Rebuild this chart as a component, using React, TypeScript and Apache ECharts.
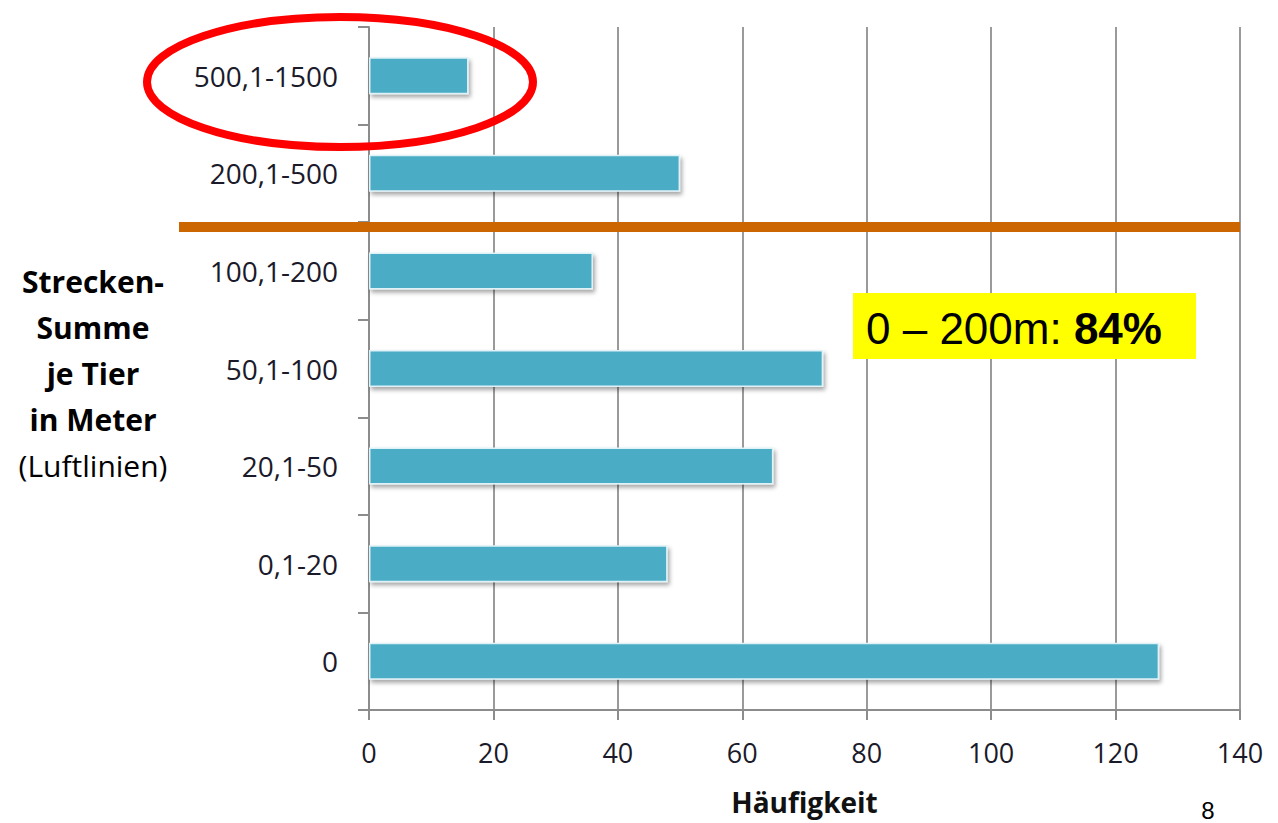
import React, { useEffect, useRef } from "react";
import * as echarts from "echarts";

const categories = ["0", "0,1-20", "20,1-50", "50,1-100", "100,1-200", "200,1-500", "500,1-1500"];
const counts = [127, 48, 65, 73, 36, 50, 16];
const xTicks = { min: 0, max: 140, interval: 20 };
const titleLines = ["Strecken-", "Summe", "je Tier", "in Meter"];
const titleNote = "(Luftlinien)";
const boxTextPlain = "0 – 200m: ";
const boxTextBold = "84%";
const xAxisName = "Häufigkeit";
const pageNumber = "8";

const FONT = "'Open Sans', sans-serif";
const ARIAL = "'Liberation Sans', Arial, sans-serif";

export default function App() {
  const ref = useRef<HTMLDivElement>(null);
  useEffect(() => {
    if (!ref.current) return;
    const chart = echarts.init(ref.current, null, { renderer: "svg" });
    const titleGraphics: any[] = titleLines.map((t, i) => ({
      type: "text",
      x: 93,
      y: 281 + i * 46,
      style: {
        text: t,
        font: `bold 30px ${FONT}`,
        fill: "#000",
        align: "center",
        verticalAlign: "middle",
      },
    }));
    titleGraphics.push({
      type: "text",
      x: 93,
      y: 281 + 4 * 46,
      style: {
        text: titleNote,
        font: `30px ${FONT}`,
        fill: "#000",
        align: "center",
        verticalAlign: "middle",
      },
    });
    chart.setOption({
      animation: false,
      backgroundColor: "#fff",
      grid: {
        left: 369,
        right: 38,
        top: 27,
        bottom: 113,
        containLabel: false,
        outerBoundsMode: "none",
      },
      xAxis: {
        type: "value",
        min: xTicks.min,
        max: xTicks.max,
        interval: xTicks.interval,
        name: xAxisName,
        nameLocation: "middle",
        nameGap: 78,
        nameTextStyle: {
          fontFamily: FONT,
          fontWeight: "bold",
          fontSize: 28,
          lineHeight: 28,
          color: "#111",
        },
        axisLine: { show: true, lineStyle: { color: "#8c8c8c", width: 2 } },
        axisTick: { show: true, length: 10, lineStyle: { color: "#8c8c8c", width: 2 } },
        axisLabel: { fontFamily: FONT, fontSize: 27, color: "#1a1a2a", margin: 29 },
        splitLine: { show: true, lineStyle: { color: "#9a9a9a", width: 2 } },
      },
      yAxis: {
        type: "category",
        data: categories,
        axisLine: { show: true, lineStyle: { color: "#8c8c8c", width: 2 } },
        axisTick: { show: true, length: 11, lineStyle: { color: "#8c8c8c", width: 2 } },
        axisLabel: { fontFamily: FONT, fontSize: 28, color: "#1a1a2a", margin: 31 },
        splitLine: { show: false },
      },
      series: [
        {
          type: "bar",
          data: counts,
          barWidth: 37,
          itemStyle: {
            color: "#4BACC6",
            borderColor: "#dff2f7",
            borderWidth: 1.5,
            shadowColor: "rgba(0,0,0,0.35)",
            shadowBlur: 4,
            shadowOffsetX: 2,
            shadowOffsetY: 3,
          },
        },
      ],
      graphic: [
        ...titleGraphics,
        {
          type: "line",
          shape: { x1: 179, y1: 227, x2: 1240, y2: 227 },
          style: { stroke: "#CC6600", lineWidth: 10 },
          z: 100,
        },
        {
          type: "rect",
          shape: { x: 853, y: 293, width: 343, height: 66 },
          style: { fill: "#FFFF00" },
          z: 100,
        },
        {
          type: "text",
          x: 866,
          y: 328,
          z: 101,
          style: {
            text: `{a|${boxTextPlain}}{b|${boxTextBold}}`,
            verticalAlign: "middle",
            rich: {
              a: { font: `44px ${ARIAL}`, fill: "#000" },
              b: { font: `bold 44px ${ARIAL}`, fill: "#000" },
            },
          } as any,
        },
        {
          type: "ellipse",
          shape: { cx: 340, cy: 82, rx: 193, ry: 65 },
          style: { fill: "none", stroke: "#FF0000", lineWidth: 8 },
          z: 100,
        },
        {
          type: "text",
          x: 1208,
          y: 810,
          style: {
            text: pageNumber,
            font: `24px ${ARIAL}`,
            fill: "#000",
            align: "center",
            verticalAlign: "middle",
          },
        },
      ],
    });
    return () => chart.dispose();
  }, []);
  return (
    <div
      ref={ref}
      style={{ position: "fixed", left: 0, top: 0, width: 1278, height: 823 }}
    />
  );
}
